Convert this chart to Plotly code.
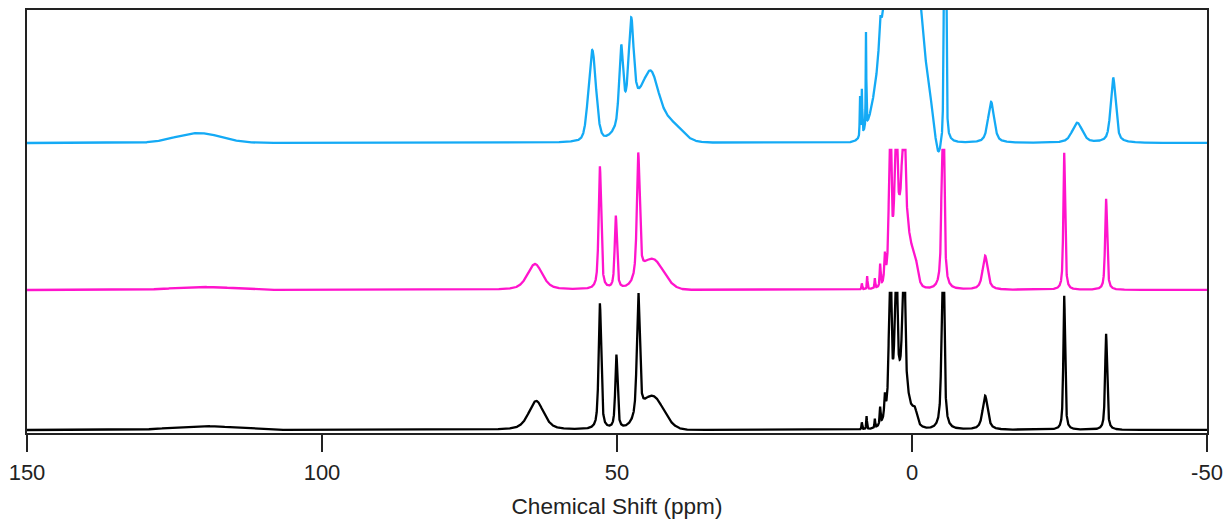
import numpy as np
import plotly.graph_objects as go

# ---------------- data ----------------
# Each trace is described by its peaks: position (ppm), height (px-units above
# its own baseline), full width at half maximum (ppm), Lorentzian fraction.
black_pos    = [120.0, 63.7, 52.9, 50.1, 46.4, 44.0, 8.5, 7.7, 6.3, 5.4, 4.6, 3.7, 2.7, 1.4, 2.0, -0.5, -5.25, -12.4, -25.8, -32.9]
black_height = [4.0,   29.0, 126.0, 74.0, 126.0, 33.0, 7.0, 13.0, 9.0, 17.0, 20.0, 300.0, 300.0, 300.0, 40.0, 10.0, 300.0, 34.0, 134.0, 96.0]
black_fwhm   = [12.0,  3.0,  0.5,  0.45, 0.55, 4.4, 0.15, 0.15, 0.15, 0.2, 0.25, 0.3, 0.3, 0.35, 3.5, 0.8, 0.4, 1.0, 0.35, 0.4]
black_lor    = [0.0,   0.5,  0.7,  0.7,  0.7,  0.0, 0.5, 0.5, 0.5, 0.5, 0.5, 0.8, 0.8, 0.8, 0.0, 0.0, 0.7, 0.7, 0.7, 0.7]

magenta_pos    = [120.0, 63.9, 52.9, 50.2, 46.4, 44.0, 8.5, 7.6, 6.3, 5.4, 4.6, 3.7, 2.7, 1.4, 1.6, -0.5, -5.25, -12.4, -25.8, -32.9]
magenta_height = [3.0,   26.0, 123.0, 73.0, 124.0, 30.0, 6.0, 13.0, 10.0, 22.0, 25.0, 300.0, 300.0, 300.0, 70.0, 15.0, 300.0, 34.0, 137.0, 91.0]
magenta_fwhm   = [12.0,  3.0,  0.5,  0.45, 0.55, 4.4, 0.15, 0.15, 0.15, 0.2, 0.25, 0.3, 0.3, 0.35, 3.0, 1.0, 0.4, 1.0, 0.35, 0.4]
magenta_lor    = [0.0,   0.5,  0.7,  0.7,  0.7,  0.0, 0.5, 0.5, 0.5, 0.5, 0.5, 0.8, 0.8, 0.8, 0.0, 0.0, 0.7, 0.7, 0.7, 0.7]

blue_pos    = [121.0, 54.2, 49.3, 47.6, 47.0, 44.2, 41.0, 8.8, 8.5, 7.8, 5.4, 1.7, -4.4, -5.6, -13.4, -28.0, -34.1]
blue_height = [10.0,  92.0, 75.0, 88.0, 32.0, 53.0, 18.0, 40.0, 45.0, 95.0, 25.0, 300.0, -26.0, 400.0, 41.0, 20.0, 65.0]
blue_fwhm   = [9.0,   1.5,  0.8,  1.0,  5.0,  3.2,  4.5, 0.15, 0.15, 0.12, 0.4, 5.9, 1.2, 0.35, 1.2, 2.0, 1.0]
blue_lor    = [0.0,   0.3,  0.5,  0.5,  0.0,  0.3,  0.0, 0.5, 0.5, 0.5, 0.5, 0.0, 0.0, 0.3, 0.6, 0.5, 0.6]

tick_vals = [150, 100, 50, 0, -50]
tick_text = ["150", "100", "50", "0", "-50"]

# ---------------- layout constants ----------------
OFFSETS = {"black": 3.0, "magenta": 143.0, "blue": 290.0}
CLIP = {"black": 137.0, "magenta": 140.0, "blue": 1000.0}
COLORS = {"black": "#000000", "magenta": "#FF14CC", "blue": "#14AAF5"}

ppm = np.linspace(150, -50, 20001)


def spectrum(pos, height, fwhm, lor):
    y = np.zeros_like(ppm)
    for p, h, w, e in zip(pos, height, fwhm, lor):
        d = (ppm - p) / w
        y += h * (e / (1 + 4 * d * d) + (1 - e) * np.exp(-4 * np.log(2) * d * d))
    return y


series = {
    "black": (black_pos, black_height, black_fwhm, black_lor),
    "magenta": (magenta_pos, magenta_height, magenta_fwhm, magenta_lor),
    "blue": (blue_pos, blue_height, blue_fwhm, blue_lor),
}

fig = go.Figure()
for name in ["black", "magenta", "blue"]:
    y = np.minimum(spectrum(*series[name]), CLIP[name]) + OFFSETS[name]
    fig.add_trace(go.Scatter(x=ppm, y=y, mode="lines", name=name,
                             line=dict(color=COLORS[name], width=2.3),
                             showlegend=False, hoverinfo="skip"))

fig.update_layout(
    width=1225, height=519,
    margin=dict(l=27, r=18, t=10, b=86),
    paper_bgcolor="white", plot_bgcolor="white",
    font=dict(family="Liberation Sans, Arial, sans-serif", color="#222222", size=22),
    xaxis=dict(range=[150, -50], tickmode="array", tickvals=tick_vals, ticktext=tick_text,
               ticks="outside", ticklen=17, tickwidth=1.5, tickcolor="#222222",
               showline=True, linecolor="#222222", linewidth=1.5, mirror=True,
               showgrid=False, zeroline=False, automargin=False,
               ticklabeloverflow="allow", ticklabelstandoff=2,
               tickfont=dict(size=22),
               title=dict(text="Chemical Shift (ppm)", font=dict(size=22.6), standoff=15)),
    yaxis=dict(range=[0, 423], showticklabels=False, ticks="",
               showline=True, linecolor="#222222", linewidth=1.5, mirror=True,
               showgrid=False, zeroline=False, automargin=False),
)

fig.write_html("out.html")
